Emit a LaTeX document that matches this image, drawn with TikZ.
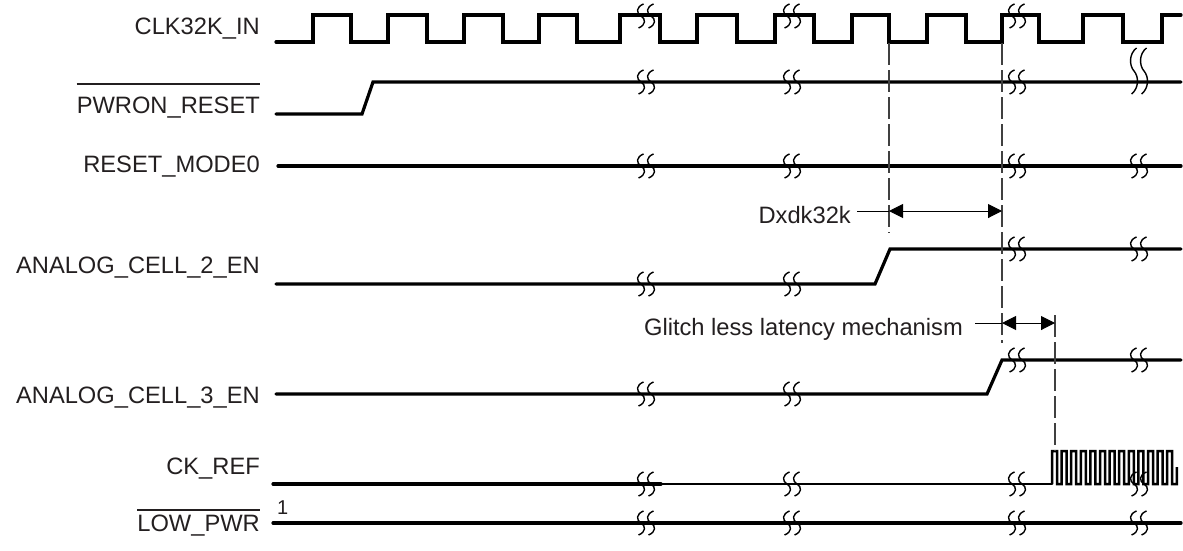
\documentclass[tikz,border=0pt]{standalone}
\usepackage{fontspec}
\setmainfont{Liberation Sans}
\usetikzlibrary{arrows.meta}
\definecolor{ink}{HTML}{231F20}
\newcommand{\brkpair}[3]{%
  \begin{scope}[shift={(#1,#2)}, yscale=#3/12]
    \draw[brk] (2.5,-12) .. controls (-5,-9) and (-5,-3) .. (0,0) .. controls (5,3) and (5,9) .. (-2.5,12);
    \draw[brk] (12.5,-12) .. controls (5,-9) and (5,-3) .. (10,0) .. controls (15,3) and (15,9) .. (7.5,12);
  \end{scope}}
\begin{document}
\begin{tikzpicture}[x=1pt,y=-1pt,
  lbl/.style={anchor=base east, inner sep=0pt, text=ink, font=\fontsize{23.7}{28}\selectfont},
  sig/.style={draw=black, line width=3.2pt, line join=miter, line cap=round},
  sigthin/.style={draw=black, line width=2.3pt, line cap=round},
  burst/.style={draw=black, line width=2.5pt, line join=miter},
  brk/.style={draw=black, line width=1.4pt},
  ovl/.style={draw=ink, line width=1.1pt},
  dsh/.style={draw=black!75, line width=1.2pt, dash pattern=on 22pt off 5pt},
  leader/.style={draw=black, line width=1pt},
  dim/.style={draw=black, line width=1pt, {Triangle[length=14pt,width=14pt]}-{Triangle[length=14pt,width=14pt]}}
]
\useasboundingbox (0,0) rectangle (1183,550);

% labels
\node[lbl] (clk) at (260,34) {CLK32K\_IN};
\node[lbl] (pwron) at (260,113) {PWRON\_RESET};
\node[lbl] (rst) at (260,172) {RESET\_MODE0};
\node[lbl] (ac2) at (260,273) {ANALOG\_CELL\_2\_EN};
\node[lbl] (ac3) at (260,403) {ANALOG\_CELL\_3\_EN};
\node[lbl] (ckref) at (260,474) {CK\_REF};
\node[lbl] (lowpwr) at (260,531) {LOW\_PWR};
\node[anchor=base west, inner sep=0pt, text=ink, font=\fontsize{20}{24}\selectfont] (one) at (277,514) {1};

\coordinate (pwrTop) at (0,84);
\coordinate (lowTop) at (0,510);
\draw[ovl] (pwron.west |- pwrTop) -- (pwron.east |- pwrTop);
\draw[ovl] (lowpwr.west |- lowTop) -- (lowpwr.east |- lowTop);

% signals
\draw[sig] (276,42) -- (313,42) -- (313,15) -- (351,15) -- (351,42) -- (388,42) -- (388,15) -- (427,15)
  -- (427,42) -- (464,42) -- (464,15) -- (503,15) -- (503,42) -- (539,42) -- (539,15) -- (577,15)
  -- (577,42) -- (620,42) -- (620,15) -- (660,15) -- (660,42) -- (697,42) -- (697,15) -- (737,15)
  -- (737,42) -- (775,42) -- (775,15) -- (814,15) -- (814,42) -- (852,42) -- (852,15) -- (889,15)
  -- (889,42) -- (927,42) -- (927,15) -- (966,15) -- (966,42) -- (1002,42) -- (1002,15) -- (1039,15)
  -- (1039,42) -- (1083,42) -- (1083,15) -- (1123,15) -- (1123,42) -- (1162,42) -- (1162,15) -- (1181,15);
\draw[sig] (276,114) -- (362,114) -- (373,82) -- (1181,82);
\draw[sig] (278,166) -- (1181,166);
\draw[sig] (276,284) -- (875,284) -- (890,249) -- (1181,249);
\draw[sig] (276,394) -- (987,394) -- (1002,360) -- (1181,360);
\draw[sig] (273,484) -- (661,484);
\draw[sigthin] (661,484) -- (1052,484);
\draw[burst] (1052,484) \foreach \i in {0,...,12} {
   -- ({1052+9.6*\i},451) -- ({1057+9.6*\i},451) -- ({1057+9.6*\i},484) -- ({1061.6+9.6*\i},484) }
   -- (1176.8,467);
\draw[sig] (273,523) -- (1181,523);

% break marks
\foreach \bx in {641,787,1012} {\brkpair{\bx}{16}{12}}
\foreach \bx in {641,787,1012} {\brkpair{\bx}{82}{12}}
\brkpair{1134}{71}{23}
\foreach \bx in {641,787,1012,1134} {\brkpair{\bx}{166}{12}}
\foreach \bx in {641,787} {\brkpair{\bx}{284}{12}}
\foreach \bx in {1012,1134} {\brkpair{\bx}{249}{12}}
\foreach \bx in {641,787} {\brkpair{\bx}{394}{12}}
\foreach \bx in {1012,1134} {\brkpair{\bx}{360}{12}}
\foreach \bx in {641,787,1012,1134} {\brkpair{\bx}{484}{12}}
\foreach \bx in {641,787,1012,1134} {\brkpair{\bx}{523}{12}}

% dashed reference lines
\coordinate (d1t) at (889,43);  \coordinate (d1b) at (889,233);
\coordinate (d2t) at (1002,43); \coordinate (d2b) at (1002,343);
\coordinate (d3t) at (1055,315); \coordinate (d3b) at (1055,451);
\draw[dsh] (d1t) -- (d1b);
\draw[dsh] (d2t) -- (d2b);
\draw[dsh] (d3t) -- (d3b);

% Dxdk32k
\node[lbl] (dxlbl) at (851,223) {Dxdk32k};
\coordinate (dxLead) at (857,211);
\coordinate (dxL) at (889,211);
\coordinate (dxR) at (1002,211);
\draw[leader] (dxLead) -- (dxL);
\draw[dim] (dxL) -- (dxR);

% glitch less latency
\node[lbl] (gllbl) at (963,335) {Glitch less latency mechanism};
\coordinate (glLead) at (975,323);
\coordinate (glL) at (1002,323);
\coordinate (glR) at (1055,323);
\draw[leader] (glLead) -- (glL);
\draw[dim] (glL) -- (glR);
\end{tikzpicture}
\end{document}
